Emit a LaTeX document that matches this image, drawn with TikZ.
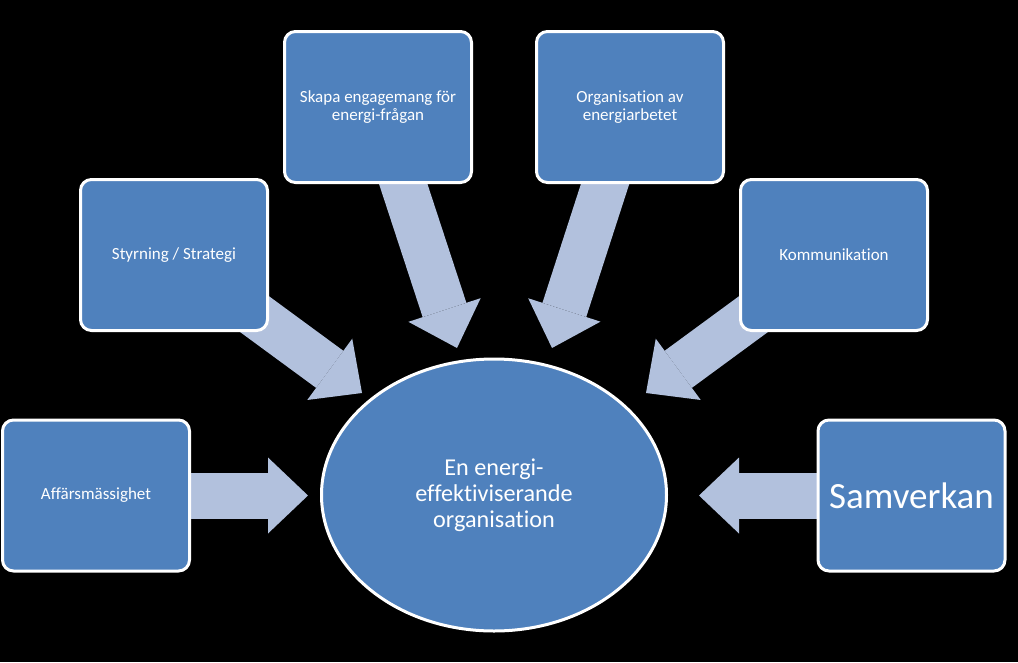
\documentclass[tikz,border=0pt]{standalone}
\usepackage{fontspec}
\setmainfont{Carlito}[Ligatures={NoCommon}]
\usetikzlibrary{arrows.meta,shapes.geometric}
\definecolor{boxblue}{RGB}{79,129,189}
\definecolor{arrowblue}{RGB}{178,193,221}
\pgfdeclarelayer{bg}
\pgfdeclarelayer{arr}
\pgfsetlayers{bg,arr,main}
\tikzset{
  box/.style={rectangle, rounded corners=11pt, draw=white, line width=3pt, fill=boxblue,
    text=white, align=center, inner sep=0pt, minimum width=187pt, minimum height=151pt,
    font=\fontsize{17}{18}\selectfont},
  hub/.style={ellipse, draw=white, line width=3pt, fill=boxblue, text=white, align=center,
    inner sep=0pt, minimum width=345pt, minimum height=272pt,
    font=\fontsize{24.2}{26}\selectfont},
  blockarrow/.style={draw=arrowblue, line width=46pt,
    -{Triangle[width=76pt,length=40pt,line width=0pt]}}
}
\begin{document}
\begin{tikzpicture}[x=1pt,y=-1pt]
\begin{pgfonlayer}{bg}
\fill[black] (0,0) rectangle (1018,662);
\end{pgfonlayer}
\useasboundingbox (0,0) rectangle (1018,662);

\node[hub] (hub) at (494,495) {En energi-\\effektiviserande\\organisation};

\node[box] (aff) at (96,495.5) {Affärsmässighet};
\node[box] (sty) at (174,255) {Styrning / Strategi};
\node[box] (ska) at (378,107) {Skapa engagemang för\\energi-frågan};
\node[box] (org) at (630,107) {Organisation av\\energiarbetet};
\node[box] (kom) at (834,255) {Kommunikation};
\node[box, font=\fontsize{37}{40}\selectfont] (sam) at (911.5,495.5) {Samverkan};

\coordinate (tA) at (308,495.5);
\coordinate (tS) at (362,393);
\coordinate (tE) at (457,348);
\coordinate (tO) at (552,348);
\coordinate (tK) at (646,393);
\coordinate (tV) at (699,495.5);

\begin{pgfonlayer}{arr}
\draw[blockarrow] (aff.center) -- (tA);
\draw[blockarrow] (sty.center) -- (tS);
\draw[blockarrow] (ska.center) -- (tE);
\draw[blockarrow] (org.center) -- (tO);
\draw[blockarrow] (kom.center) -- (tK);
\draw[blockarrow] (sam.center) -- (tV);
\end{pgfonlayer}
\end{tikzpicture}
\end{document}
